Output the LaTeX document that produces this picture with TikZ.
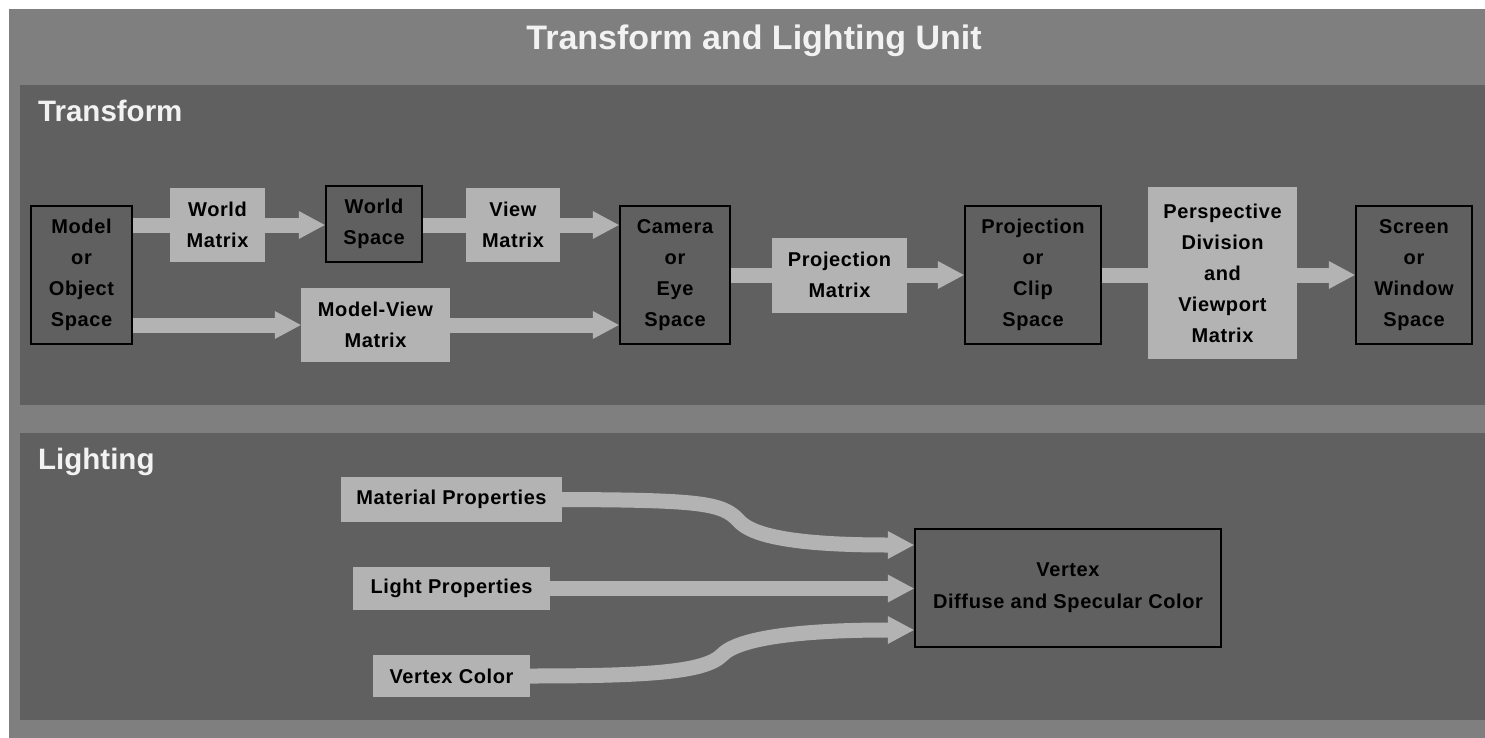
\documentclass[tikz,border=0pt]{standalone}
\usepackage{fontspec}
\setmainfont{Liberation Sans}
\newfontfamily\tlspaced{Liberation Sans}[LetterSpace=3]
\usetikzlibrary{arrows.meta}
\pgfdeclarelayer{back}
\pgfdeclarelayer{mid}
\pgfsetlayers{back,mid,main}

\definecolor{outergray}{HTML}{7F7F7F}
\definecolor{panelgray}{HTML}{606060}
\definecolor{boxgray}{HTML}{B3B3B3}
\definecolor{headtext}{HTML}{F2F2F2}

\newcommand\tlboxfont{\tlspaced\bfseries\fontsize{20}{31}\selectfont}
\newcommand\tlheadfont{\bfseries\fontsize{29.5}{34}\selectfont}
\newcommand\tltitlefont{\bfseries\fontsize{34}{40}\selectfont}

\tikzset{
  spacebox/.style={draw=black, line width=2.4pt, fill=panelgray, align=center,
    inner sep=0pt, font=\tlboxfont, text=black},
  matbox/.style={fill=boxgray, align=center, inner sep=0pt, font=\tlboxfont, text=black},
  bar/.style={draw=boxgray, line width=15pt},
  flow/.style={draw=boxgray, line width=15pt,
    -{Triangle[length=26pt,width=28pt,line width=0pt]}},
  heading/.style={inner sep=0pt, text=headtext, font=\tlheadfont},
}

\begin{document}
\begin{tikzpicture}[x=1pt,y=-1pt]
\useasboundingbox (0,0) rectangle (1485,738);

% frame and the two panels
\begin{pgfonlayer}{back}
  \fill[white] (0,0) rectangle (1485,738);
  \fill[outergray] (9,9) rectangle (1485,738);
  \fill[panelgray] (20,85) rectangle (1485,405);
  \fill[panelgray] (20,433) rectangle (1485,720);
\end{pgfonlayer}

\node[heading, font=\tltitlefont, anchor=base] (title) at (754,50) {Transform and Lighting Unit};
\node[heading, anchor=base west] (tlabel) at (38,122) {Transform};
\node[heading, anchor=base west] (llabel) at (38,469) {Lighting};

% transform pipeline
\node[spacebox, minimum width=101pt, minimum height=138pt] (model) at (81.5,275) {Model\\or\\Object\\Space};
\node[matbox, minimum width=95pt, minimum height=74pt] (wm) at (217.5,225) {World\\Matrix};
\node[spacebox, minimum width=96pt, minimum height=76pt] (ws) at (374,224) {World\\Space};
\node[matbox, minimum width=94pt, minimum height=74pt] (vm) at (513,225) {View\\Matrix};
\node[matbox, minimum width=149pt, minimum height=74pt] (mv) at (375.5,325) {Model-View\\Matrix};
\node[spacebox, minimum width=110pt, minimum height=138pt] (cam) at (675,275) {Camera\\or\\Eye\\Space};
\node[matbox, minimum width=135pt, minimum height=75pt] (pm) at (839.5,275) {Projection\\Matrix};
\node[spacebox, minimum width=136pt, minimum height=138pt] (clip) at (1033,275) {Projection\\or\\Clip\\Space};
\node[matbox, minimum width=149pt, minimum height=172pt] (pdv) at (1222.5,273) {Perspective\\Division\\and\\Viewport\\Matrix};
\node[spacebox, minimum width=116pt, minimum height=138pt] (screen) at (1414,275) {Screen\\or\\Window\\Space};

% lighting inputs
\node[matbox, minimum width=221pt, minimum height=45pt] (mat) at (451.5,499.5) {Material Properties};
\node[matbox, minimum width=197pt, minimum height=43pt] (lp) at (451.5,588.5) {Light Properties};
\node[matbox, minimum width=157pt, minimum height=42pt] (vc) at (451.5,676) {Vertex Color};
\node[spacebox, minimum width=306pt, minimum height=118pt,
      font=\tlspaced\bfseries\fontsize{20}{32}\selectfont] (vtx) at (1068,588) {Vertex\\Diffuse and Specular Color};

\begin{pgfonlayer}{mid}
  \draw[bar]  (model.east |- wm.west) -- (wm.west);
  \draw[flow] (wm.east) -- (ws.west |- wm.east);
  \draw[bar]  (ws.east |- vm.west) -- (vm.west);
  \draw[flow] (vm.east) -- (cam.west |- vm.east);
  \draw[flow] (model.east |- mv.west) -- (mv.west);
  \draw[flow] (mv.east) -- (cam.west |- mv.east);
  \draw[bar]  (cam.east) -- (pm.west);
  \draw[flow] (pm.east) -- (clip.west);
  \draw[bar]  (clip.east) -- (pdv.west |- clip.east);
  \draw[flow] (pdv.east |- clip.east) -- (screen.west);

  \draw[flow] (mat.east) .. controls (700,500) and (722,503) .. (738,520)
              .. controls (752,537) and (800,545) .. ([yshift=43pt]vtx.west);
  \draw[flow] (lp.east) -- (vtx.west |- lp.east);
  \draw[flow] (vc.east) .. controls (650,676) and (705,672) .. (722,655)
              .. controls (738,638) and (800,630) .. ([yshift=-42pt]vtx.west);
\end{pgfonlayer}
\end{tikzpicture}
\end{document}
